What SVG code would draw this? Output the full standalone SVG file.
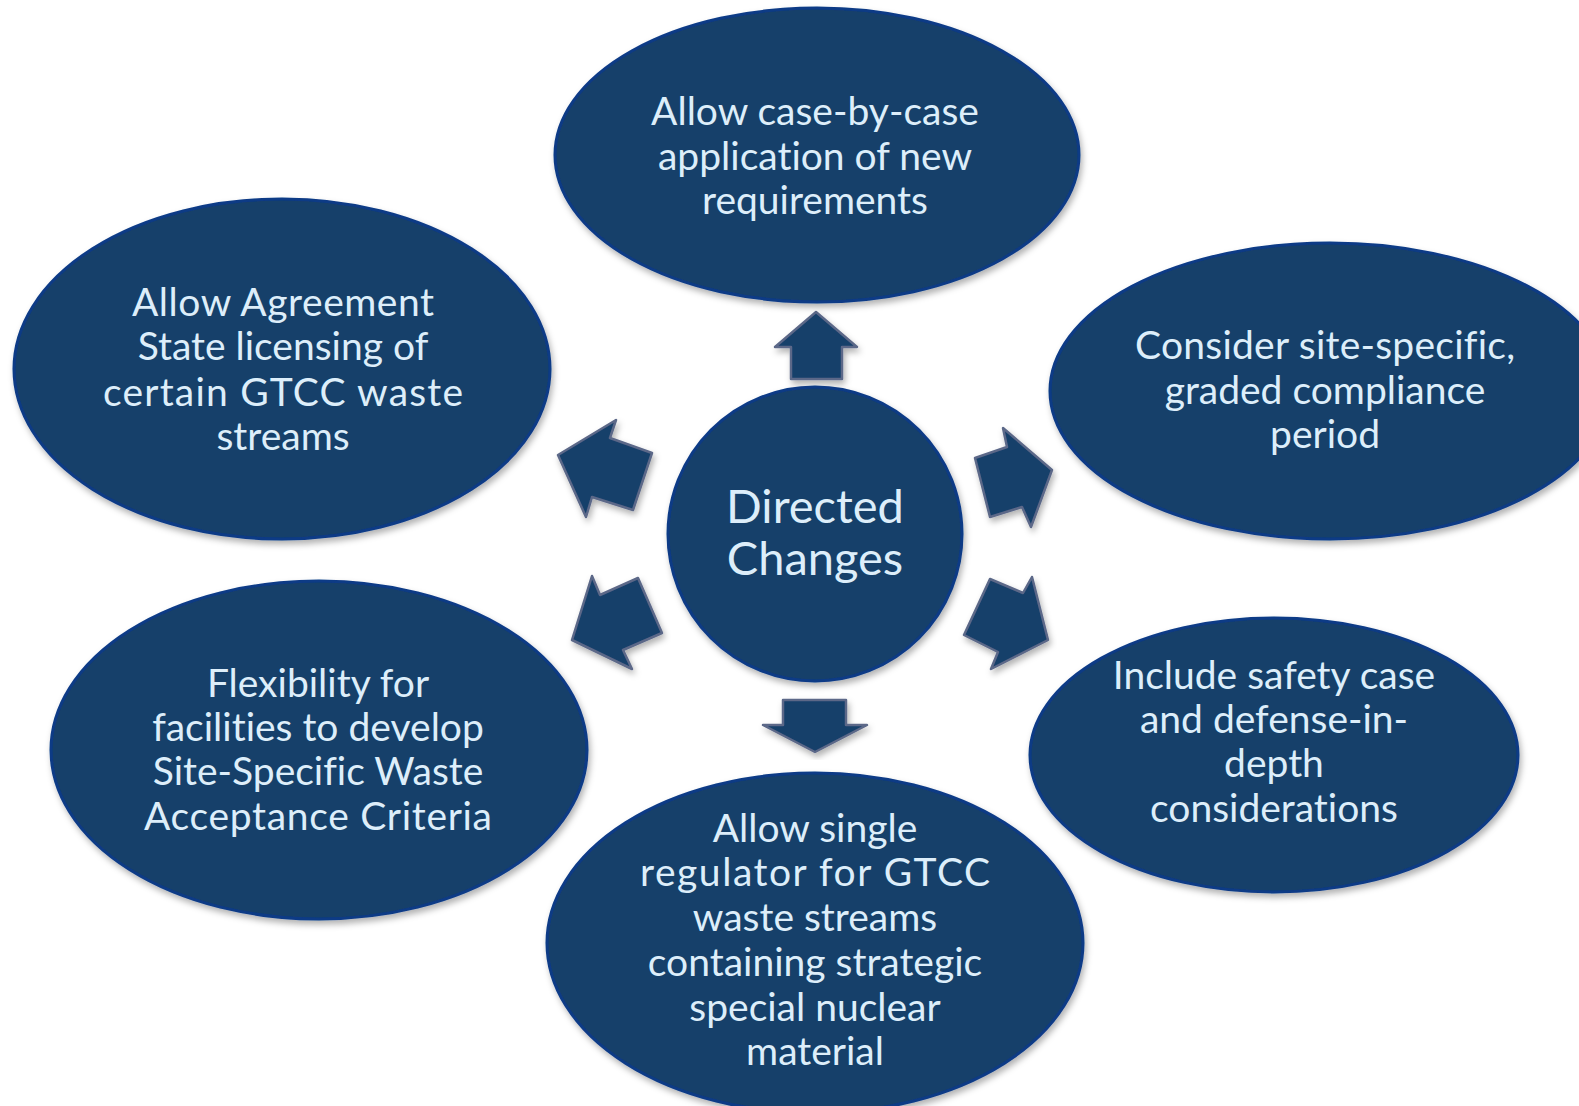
<svg xmlns="http://www.w3.org/2000/svg" width="1579" height="1106" viewBox="0 0 1579 1106">
<defs>
<filter id="sh" x="-10%" y="-10%" width="120%" height="125%">
<feDropShadow dx="2" dy="4" stdDeviation="3" flood-color="#000" flood-opacity="0.3"/>
</filter>
<style>
.node{fill:#173f6b;stroke:#0b3a86;stroke-width:3;filter:url(#sh)}
.arr{fill:#173f6b;stroke:#5b6888;stroke-width:2.5;stroke-linejoin:round;filter:url(#sh)}
.t{font-family:Lato,"Open Sans","DejaVu Sans",sans-serif;font-size:39px;fill:#ddeefa;text-anchor:middle;font-variant-ligatures:none}
.c{font-size:47px}
</style>
</defs>
<rect width="1579" height="1106" fill="#ffffff"/>
<g id="connectors">
<polygon class="arr" points="816,312 857,347 842,347 842,379 791,379 791,347 775,347"/>
<polygon class="arr" points="815,752 867,725 846,725 846,700 783,700 783,725 763,725"/>
<polygon class="arr" points="558,455 616,420 610,438 652,453 633,510 592,497 586,517"/>
<polygon class="arr" points="1052,470 1003,428 1007,447 975,458 990,517 1022,507 1031,527"/>
<polygon class="arr" points="572,640 592,576 600,595 638,578 662,633 623,650 632,669"/>
<polygon class="arr" points="1048,640 1032,577 1023,593 990,579 964,635 998,652 991,669"/>
</g>
<g id="node-top">
<ellipse class="node" cx="817" cy="155" rx="262" ry="147"/>
<text class="t" x="815" y="125">Allow case-by-case</text>
<text class="t" x="815" y="170">application of new</text>
<text class="t" x="815" y="214">requirements</text>
</g>
<g id="node-top-left">
<ellipse class="node" cx="282" cy="369" rx="268" ry="170"/>
<text class="t" x="283" y="316" textLength="302">Allow Agreement</text>
<text class="t" x="283" y="360">State licensing of</text>
<text class="t" x="283" y="406" textLength="360">certain GTCC waste</text>
<text class="t" x="283" y="450">streams</text>
</g>
<g id="node-top-right">
<ellipse class="node" cx="1330" cy="391" rx="280" ry="148"/>
<text class="t" x="1325" y="359" textLength="380">Consider site-specific,</text>
<text class="t" x="1325" y="404">graded compliance</text>
<text class="t" x="1325" y="448">period</text>
</g>
<g id="node-bottom-left">
<ellipse class="node" cx="319" cy="750" rx="268" ry="169"/>
<text class="t" x="318" y="697">Flexibility for</text>
<text class="t" x="318" y="741">facilities to develop</text>
<text class="t" x="318" y="785">Site-Specific Waste</text>
<text class="t" x="318" y="830" textLength="348">Acceptance Criteria</text>
</g>
<g id="node-bottom-right">
<ellipse class="node" cx="1274" cy="755" rx="244" ry="137"/>
<text class="t" x="1274" y="689">Include safety case</text>
<text class="t" x="1274" y="733">and defense-in-</text>
<text class="t" x="1274" y="777">depth</text>
<text class="t" x="1274" y="822">considerations</text>
</g>
<g id="node-bottom">
<ellipse class="node" cx="815" cy="943" rx="268" ry="170"/>
<text class="t" x="815" y="842">Allow single</text>
<text class="t" x="815" y="886" textLength="350">regulator for GTCC</text>
<text class="t" x="815" y="931">waste streams</text>
<text class="t" x="815" y="976">containing strategic</text>
<text class="t" x="815" y="1021">special nuclear</text>
<text class="t" x="815" y="1065">material</text>
</g>
<g id="node-center">
<circle class="node" cx="815" cy="534" r="147"/>
<text class="t c" x="815" y="523">Directed</text>
<text class="t c" x="815" y="575">Changes</text>
</g>
</svg>
